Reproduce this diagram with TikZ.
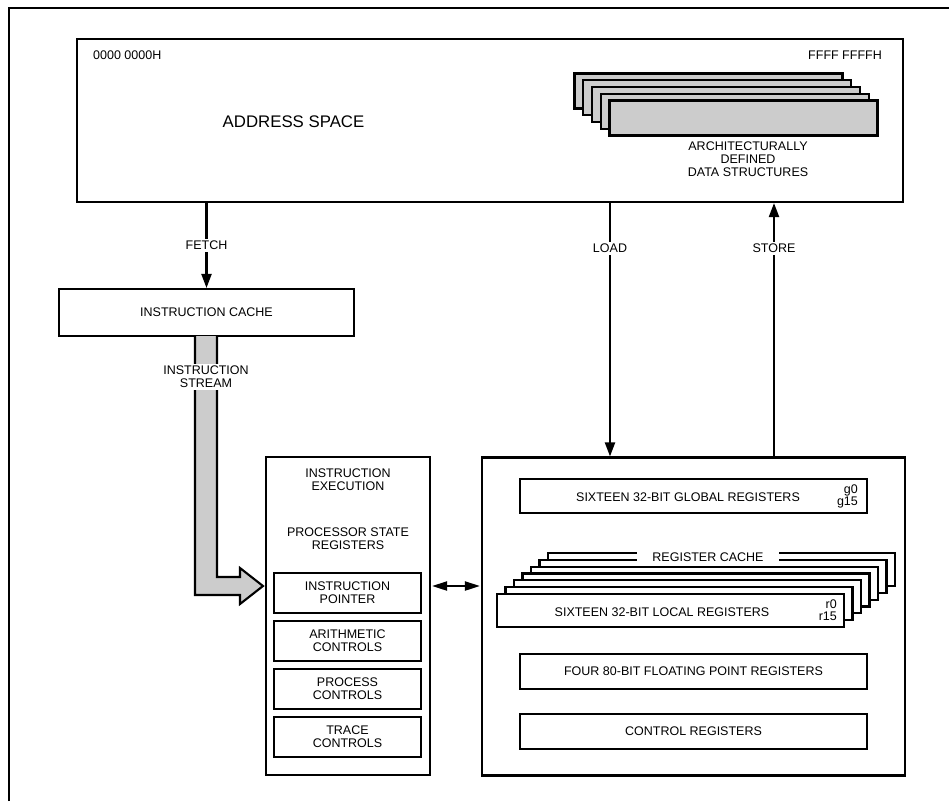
\documentclass[tikz,border=0pt]{standalone}
\usepackage{fontspec}
\setmainfont{Liberation Sans}
\usetikzlibrary{
arrows.meta,
positioning,
calc
}

\begin{document}
\begin{tikzpicture}[
  x=1pt, y=-1pt,
  every node/.style={font=\fontsize{12.5}{13}\selectfont, inner sep=0pt},
  box/.style={draw, line width=2.1pt, fill=white, align=center},
  slab/.style={draw, line width=2.1pt, fill=black!20, minimum width=268pt, minimum height=35pt},
  regslab/.style={draw, line width=2.1pt, fill=white, minimum width=347pt, minimum height=33pt},
  ctlbox/.style={box, minimum width=147pt, minimum height=40pt},
  regbox/.style={box, minimum width=347pt, minimum height=35pt},
  flow/.style={line width=2.1pt, -{Triangle[length=14pt,width=10pt]}},
  duplex/.style={line width=2.1pt, {Triangle[length=15pt,width=9pt]}-{Triangle[length=15pt,width=9pt]}, shorten <=1pt, shorten >=1pt},
  lbl/.style={fill=white, inner sep=2pt, align=center},
  regno/.style={anchor=east, align=right, font=\fontsize{12.5}{12}\selectfont}
]
\useasboundingbox (0,0) rectangle (949,801);

% Outer frame
\draw[line width=2.1pt] (9,801) -- (9,8) -- (949,8);

% Address space
\node[box, minimum width=826pt, minimum height=163pt] (addr) at (490,120.5) {};
\node[anchor=west] (lo) at (93,55) {0000 0000H};
\node[anchor=east] (hi) at (882,55) {FFFF FFFFH};
\node[font=\fontsize{16.8}{18}\selectfont] (aslbl) at (293.5,121.5) {ADDRESS SPACE};

% Data structures
\foreach \i in {4,...,1}
  \node[slab] at (743.5-8.75*\i, 118-6.75*\i) {};
\node[slab] (ds) at (743.5,118) {};
\node[align=center] (dslbl) at (748,159.5) {ARCHITECTURALLY\\DEFINED\\DATA STRUCTURES};

% Instruction cache
\node[box, minimum width=295pt, minimum height=47pt] (icache) at (206.5,312.5) {INSTRUCTION CACHE};
\draw[flow] (addr.south -| icache.north) -- node[lbl] (fetch) {FETCH} (icache.north);

% Instruction stream
\filldraw[line width=2.1pt, fill=black!20]
  (217,336) -- (217,577) -- (240,577) -- (240,568) -- (263,586)
  -- (240,604) -- (240,595) -- (195,595) -- (195,336);
\node[lbl] (stream) at (206,377) {INSTRUCTION\\STREAM};
\coordinate (tip) at (263,586);

% Instruction execution
\node[box, minimum width=164pt, minimum height=318pt] (exec) at (348,616) {};
\node[align=center] (ie) at (348,480) {INSTRUCTION\\EXECUTION};
\node[align=center] (psr) at (348,538.5) {PROCESSOR STATE\\REGISTERS};
\foreach \n/\t [count=\k from 0] in {ip/{INSTRUCTION\\POINTER}, ac/{ARITHMETIC\\CONTROLS}, pc/{PROCESS\\CONTROLS}, tc/{TRACE\\CONTROLS}}
  \node[ctlbox] (\n) at (347.5, 593+48*\k) {\t};

% Registers
\node[box, minimum width=423pt, minimum height=318pt] (regs) at (693.5,616.5) {};
\coordinate (ldx) at (610,0);
\coordinate (stx) at (774,0);
\draw[flow] (addr.south -| ldx) -- node[lbl, pos=0.18] (load) {LOAD} (regs.north -| ldx);
\draw[flow] (regs.north -| stx) -- node[lbl, pos=0.82] (store) {STORE} (addr.south -| stx);
\draw[duplex] (exec.east |- tip) -- (regs.west |- tip);

\node[regbox, minimum height=34pt] (glob) at (693.5,496) {};
\node (globlbl) at (688,497) {SIXTEEN 32-BIT GLOBAL REGISTERS};
\node[regno] (gnum) at ([xshift=-10pt]glob.east) {g0\\g15};

% Register cache
\foreach \i in {6,...,1}
  \node[regslab] at (670.5+8.5*\i, 610.5-6.83*\i) {};
\node[regslab] (loc) at (670.5,610.5) {};
\node (loclbl) at (662,612) {SIXTEEN 32-BIT LOCAL REGISTERS};
\node[regno] (rnum) at ([xshift=-8pt]loc.east) {r0\\r15};
\node[lbl, inner xsep=15pt, inner ysep=3.5pt] (rc) at (708,557) {REGISTER CACHE};

\node[regbox] (fpr) at (693.5,671.5) {FOUR 80-BIT FLOATING POINT REGISTERS};
\node[regbox] (ctl) at (693.5,731.5) {CONTROL REGISTERS};

\end{tikzpicture}
\end{document}
